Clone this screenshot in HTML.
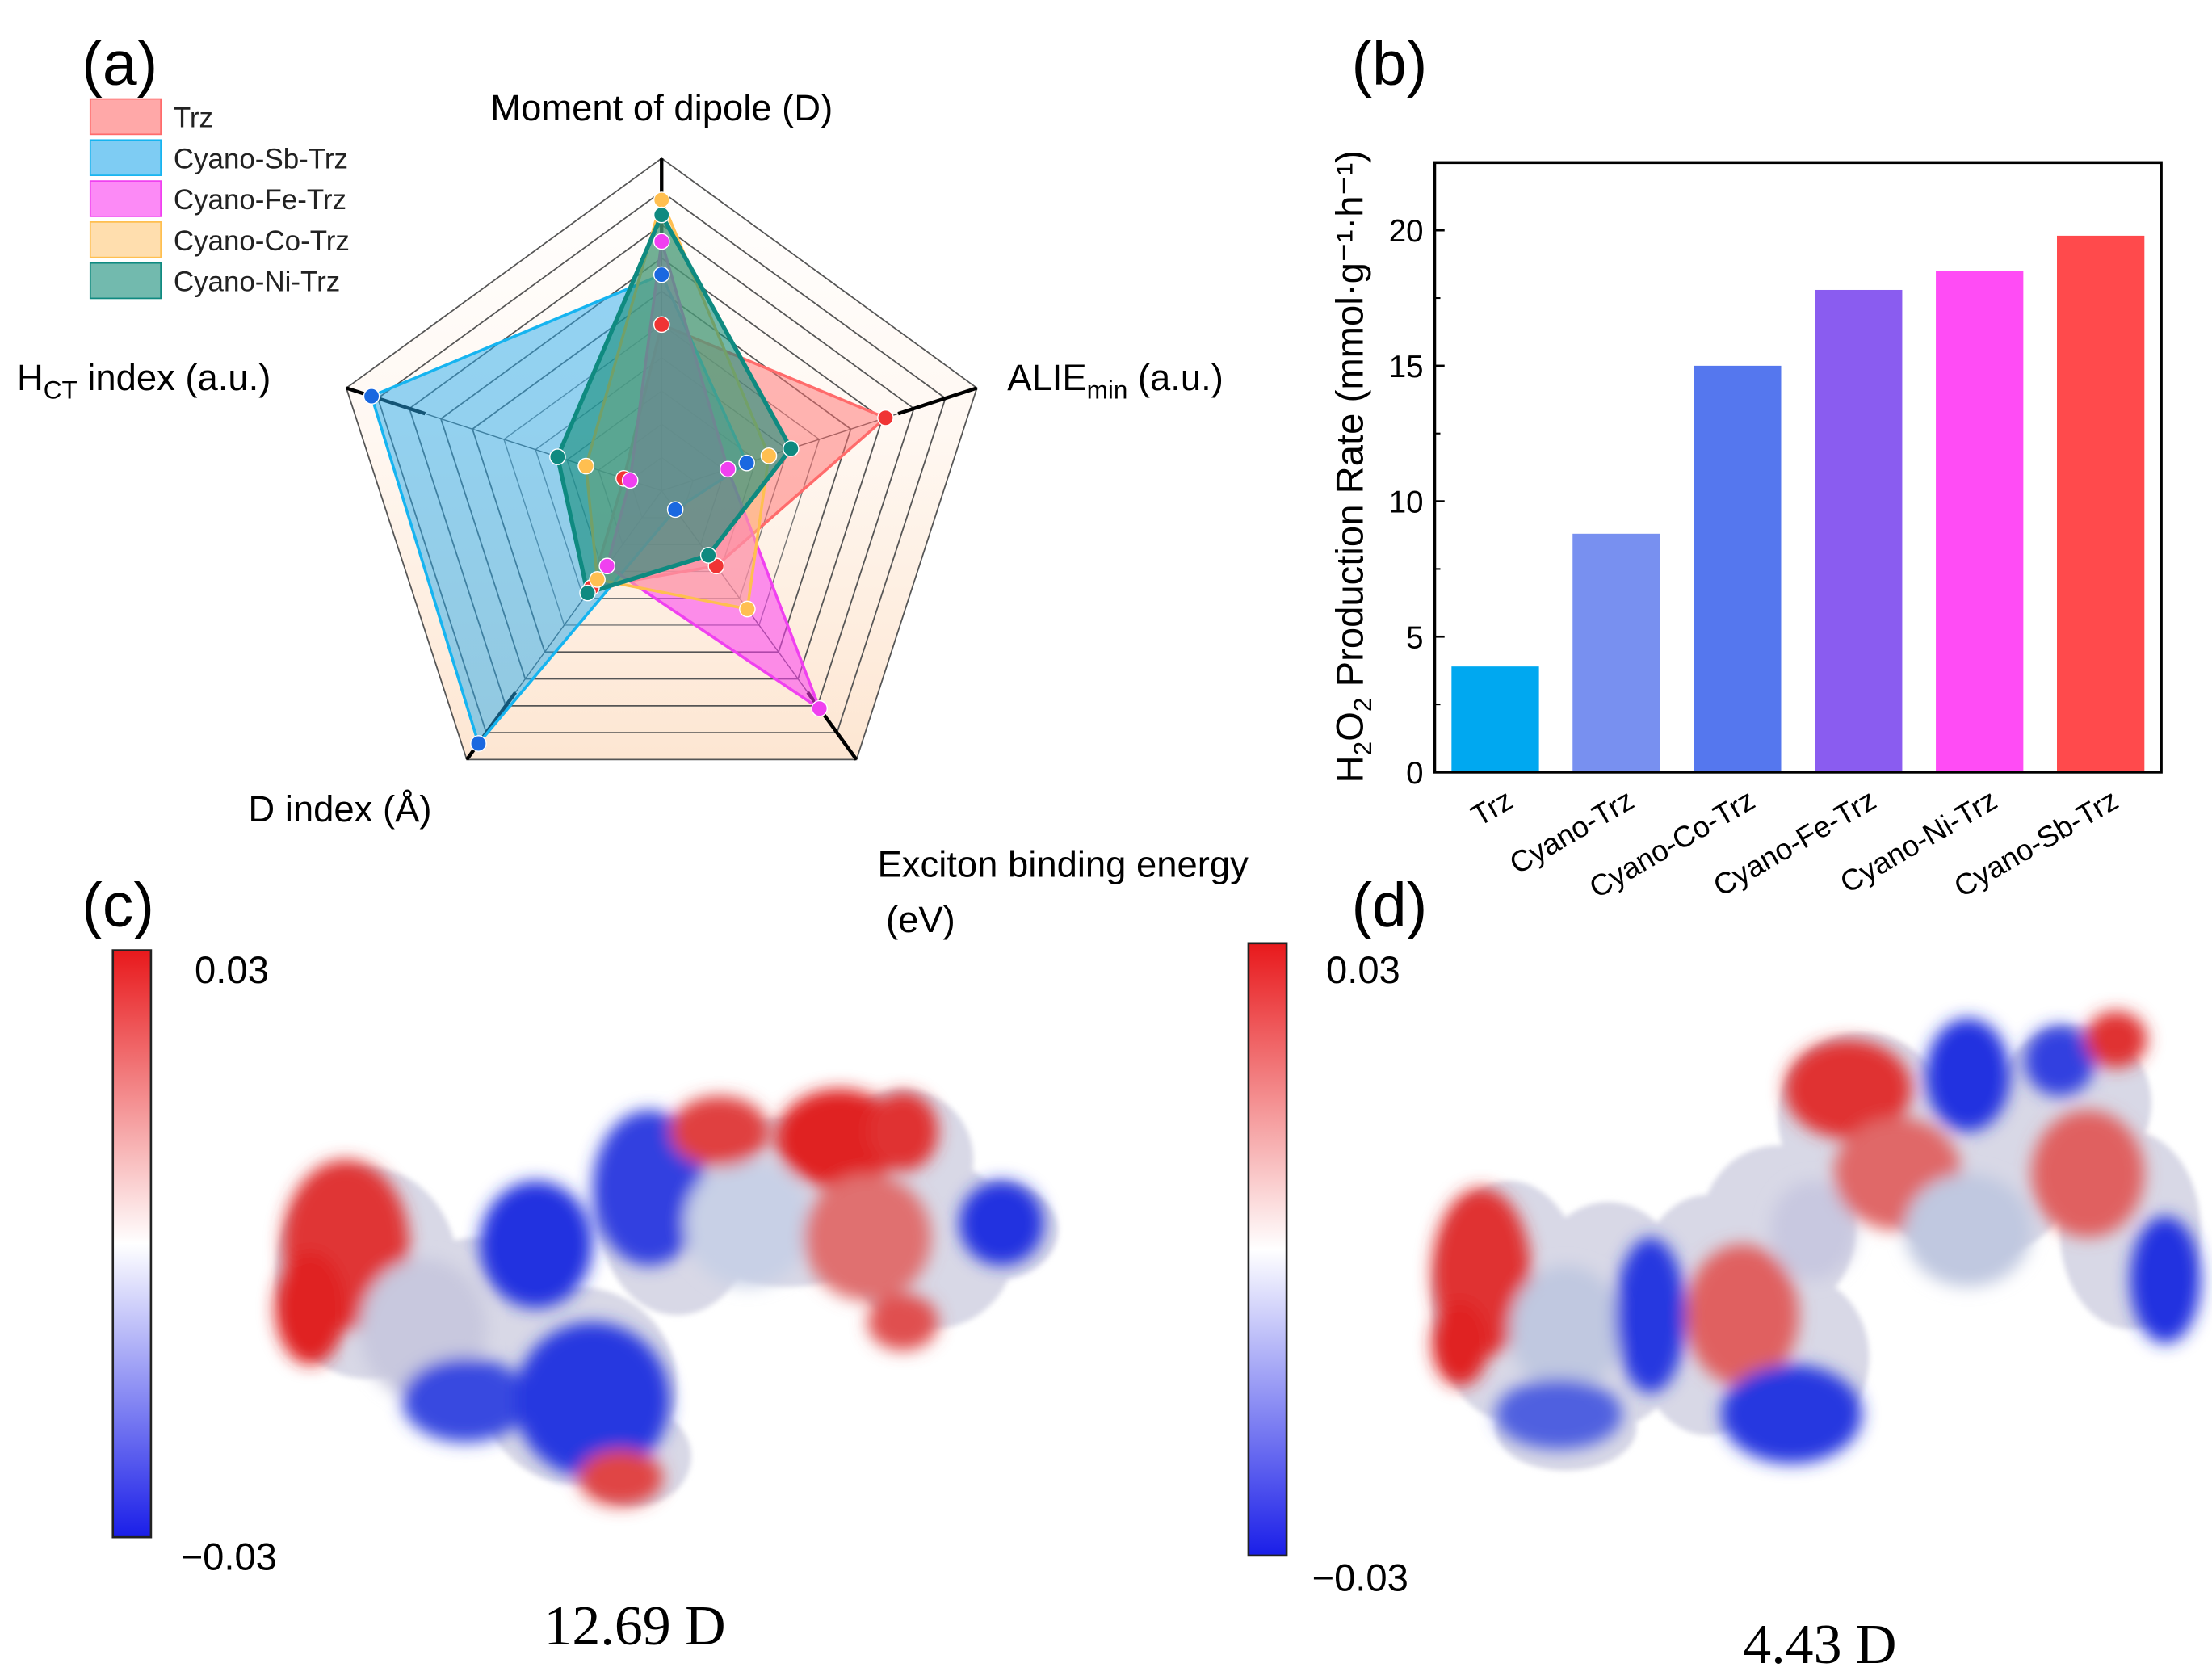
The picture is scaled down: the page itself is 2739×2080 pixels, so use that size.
<!DOCTYPE html>
<html><head><meta charset="utf-8"><style>
html,body{margin:0;padding:0;background:#fff}
svg{display:block}
.sans{font-family:"Liberation Sans","DejaVu Sans",sans-serif}
.serif{font-family:"Liberation Serif","DejaVu Serif",serif}
</style></head><body>
<svg id="fig" class="sans" width="2739" height="2080" viewBox="0 0 1568 1188" preserveAspectRatio="none" xmlns="http://www.w3.org/2000/svg">
<defs>
<linearGradient id="peach" x1="0" y1="0" x2="0" y2="1">
<stop offset="0" stop-color="#ffffff"/><stop offset="0.45" stop-color="#fff8f2"/><stop offset="1" stop-color="#fde6d2"/>
</linearGradient>
<linearGradient id="cbar" x1="0" y1="0" x2="0" y2="1">
<stop offset="0" stop-color="#e8191c"/><stop offset="0.5" stop-color="#ffffff"/><stop offset="1" stop-color="#1a1ee8"/>
</linearGradient>
<filter id="blur" x="-20%" y="-20%" width="140%" height="140%"><feGaussianBlur stdDeviation="6"/></filter>
<filter id="blur2" x="-20%" y="-20%" width="140%" height="140%"><feGaussianBlur stdDeviation="2"/></filter>
</defs>
<g id="radar"></g>
<g id="bars"></g>
<g id="esp"></g>
<text x="58" y="60" font-size="44">(a)</text>
<text x="958" y="60" font-size="44">(b)</text>
<text x="58" y="655" font-size="44">(c)</text>
<text x="958" y="655" font-size="44">(d)</text>
</svg>
<script>
const NS='http://www.w3.org/2000/svg';
function mk(tag,attrs,parent,txt){const e=document.createElementNS(NS,tag);for(const k in attrs)e.setAttribute(k,attrs[k]);if(txt!==undefined)e.textContent=txt;parent.appendChild(e);return e;}

// ---------- Radar data ----------
const radarAxes=['Moment of dipole (D)','ALIEmin (a.u.)','Exciton binding energy (eV)','D index (Å)','HCT index (a.u.)'];
const radarSeries=['Trz','Cyano-Sb-Trz','Cyano-Fe-Trz','Cyano-Co-Trz','Cyano-Ni-Trz'];
const valTrz=[0.50,0.71,0.28,0.36,0.12];
const valSb=[0.65,0.27,0.07,0.94,0.92];
const valFe=[0.75,0.21,0.81,0.28,0.10];
const valCo=[0.875,0.34,0.44,0.33,0.24];
const valNi=[0.83,0.41,0.24,0.38,0.33];
const radarVals=[valTrz,valSb,valFe,valCo,valNi];
const radarFill=['rgba(255,110,110,0.5)','rgba(40,170,235,0.5)','rgba(250,60,240,0.55)','rgba(255,200,120,0.45)','rgba(20,140,120,0.6)'];
const radarLine=['#ff6b6b','#16b4f0','#f040f0','#ffbf50','#0f8a80'];
const radarDot=['#f03434','#1a68e0','#f040f0','#ffbf50','#0f8a80'];

const rg=document.getElementById('radar');
const cx=469,cy=347,R=235;
function pt(i,r){const a=-Math.PI/2+i*2*Math.PI/5;return [cx+R*r*Math.cos(a),cy+R*r*Math.sin(a)];}
function poly(vals){return vals.map((v,i)=>pt(i,v).join(',')).join(' ');}
let bg=mk('polygon',{points:poly([1,1,1,1,1]),fill:'url(#peach)',stroke:'none'},rg);

for(let k=1;k<=10;k++){
  const r=k/10;
  const g=mk('polygon',{points:poly([r,r,r,r,r]),fill:'none',stroke:k>5?'#555':'#777','stroke-width':k>5?1:0.8},rg);
  
}
for(let i=0;i<5;i++){
  const [x,y]=pt(i,1);
  const l=mk('line',{x1:cx,y1:cy,x2:x,y2:y,stroke:'#555','stroke-width':0.8},rg);
  
  const [x2,y2]=pt(i,0.75);
  const o=mk('line',{x1:x2,y1:y2,x2:x,y2:y,stroke:'#000','stroke-width':2.5},rg);
  
}
radarVals.forEach((vals,s)=>{
  const p=mk('polygon',{points:poly(vals),fill:radarFill[s],stroke:radarLine[s],'stroke-width':s==4?3:2,'stroke-linejoin':'round'},rg);
  
});
radarVals.forEach((vals,s)=>{
  vals.forEach((v,i)=>{
    const [x,y]=pt(i,v);
    const c=mk('circle',{cx:x,cy:y,r:5.5,fill:radarDot[s],stroke:'#fff','stroke-width':0.8},rg);
    
  });
});
radarSeries.forEach((n,s)=>{
  const y=70+s*29;
  const r=mk('rect',{x:64,y:y,width:50,height:25,fill:radarFill[s].replace(/0\.\d+\)/,'0.6)'),stroke:radarLine[s],'stroke-width':1},rg);
  
  const t=mk('text',{x:123,y:y+20,'font-size':20,fill:'#222'},rg,n);
  
});
function lab(x,y,s,anchor,name){const t=mk('text',{x:x,y:y,'font-size':26,'text-anchor':anchor||'start'},rg);t.innerHTML=s;return t;}
lab(469,85,'Moment of dipole (D)','middle','axis-label-dipole');
lab(12,276,'H<tspan font-size="18" dy="6">CT</tspan><tspan dy="-6"> index (a.u.)</tspan>','start','axis-label-hct');
lab(714,276,'ALIE<tspan font-size="18" dy="6">min</tspan><tspan dy="-6"> (a.u.)</tspan>','start','axis-label-alie');
lab(241,581,'D index (Å)','middle','axis-label-dindex');
lab(622,620,'Exciton binding energy','start','axis-label-exciton');
lab(628,659,'(eV)','start','axis-label-exciton-unit');

// ---------- Bar data ----------
const barCats=['Trz','Cyano-Trz','Cyano-Co-Trz','Cyano-Fe-Trz','Cyano-Ni-Trz','Cyano-Sb-Trz'];
const barVals=[3.9,8.8,15.0,17.8,18.5,19.8];
const barColors=['#00a8f0','#7890f0','#5577ee','#8a5cf0','#ff4cf5','#ff4a4c'];
const yTicks=[0,5,10,15,20];
const yTickLabels=['0','5','10','15','20'];
const bgp=document.getElementById('bars');
const X0=1017,X1=1532,Y0=546,Y1=115,ymax=22.5;
const ys=v=>Y0-(Y0-Y1)*v/ymax;
const band=(X1-X0)/barCats.length;
barVals.forEach((v,i)=>{
  const xc=X0+band*(i+0.5);
  const r=mk('rect',{x:xc-31,y:ys(v),width:62,height:Y0-ys(v),fill:barColors[i]},bgp);
  
  const t=mk('text',{x:xc+14,y:Y0+24,'font-size':21,'text-anchor':'end',transform:`rotate(-30 ${xc+14} ${Y0+24})`},bgp,barCats[i]);
  
});
const fr=mk('rect',{x:X0,y:Y1,width:X1-X0,height:Y0-Y1,fill:'none',stroke:'#000','stroke-width':2},bgp);

yTicks.forEach((v,i)=>{
  const y=ys(v);
  const l=mk('line',{x1:X0,y1:y,x2:X0+7,y2:y,stroke:'#000','stroke-width':1.5},bgp);
  
  const t=mk('text',{x:X0-8,y:y+8,'font-size':22,'text-anchor':'end'},bgp,yTickLabels[i]);
  
  const m=ys(v+2.5);
  if(v+2.5<ymax){const ml=mk('line',{x1:X0,y1:m,x2:X0+4,y2:m,stroke:'#000','stroke-width':1.2},bgp);
  }
});
const yt=mk('text',{x:0,y:0,'font-size':27,'text-anchor':'middle',transform:'translate(966,330) rotate(-90)'},bgp);
yt.innerHTML='H<tspan font-size="18" dy="6">2</tspan><tspan dy="-6">O</tspan><tspan font-size="18" dy="6">2</tspan><tspan dy="-6"> Production Rate (mmol·g⁻¹·h⁻¹)</tspan>';


// ---------- ESP panels ----------
const eg=document.getElementById('esp');
function cbar(x,y,h,t1y,t2x,t2y,t1x){
  const r=mk('rect',{x:x,y:y,width:27,height:h,fill:'url(#cbar)',stroke:'#222','stroke-width':1.5},eg);
  
  const a=mk('text',{x:t1x,y:t1y,'font-size':27},eg,'0.03');
  const b=mk('text',{x:t2x,y:t2y,'font-size':27},eg,'−0.03');
}
cbar(80,672,415,695,128,1110,138);
cbar(885,667,433,695,930,1125,940);
function blob(base,parts,name){
  const g=mk('g',{},eg);
  const gb=mk('g',{filter:'url(#blur2)'},g);
  base.forEach(p=>{const c=mk('ellipse',{cx:p[0],cy:p[1],rx:p[2],ry:p[3],fill:'#d8d8e6'},gb);});
  const gc=mk('g',{filter:'url(#blur)'},g);
  parts.forEach(p=>{const c=mk('ellipse',{cx:p[0],cy:p[1],rx:p[2],ry:p[3],fill:p[4]},gc);});
}
blob([[260,900,65,75],[340,940,70,65],[410,980,70,70],[450,1030,40,35],[480,860,55,70],[560,850,80,60],[640,820,50,50],[660,880,60,60],[705,870,45,35]],
[[245,880,45,60,'#e03434'],[220,925,25,40,'#e02020'],[300,940,45,50,'#c8c8de'],[330,990,45,30,'#3848e0'],[380,880,40,45,'#2030e0'],[420,990,55,55,'#2838e0'],[440,1045,30,20,'#e04545'],[460,840,40,55,'#3040e0'],[530,865,45,45,'#c8d0e6'],[510,800,35,25,'#e04040'],[595,805,45,35,'#e02020'],[640,800,25,28,'#e03030'],[615,875,45,45,'#e07070'],[710,865,30,30,'#2030e0'],[640,935,25,20,'#e05050']],'esp-surface-c');
blob([[1070,920,55,85],[1140,930,60,80],[1210,930,55,85],[1270,960,55,60],[1260,870,55,60],[1320,790,60,60],[1400,830,70,60],[1470,780,55,55],[1510,870,50,70],[1110,1010,50,30]],
[[1050,900,35,60,'#e03030'],[1035,950,20,30,'#e02020'],[1110,940,40,45,'#c0c8e0'],[1170,930,25,55,'#2838e0'],[1235,930,40,50,'#e06060'],[1270,1000,50,35,'#2838e0'],[1285,870,30,35,'#c8c8e0'],[1310,770,45,35,'#e03030'],[1345,830,45,40,'#e06868'],[1395,760,30,40,'#2030e0'],[1395,870,45,40,'#c0c8e0'],[1460,750,25,25,'#3040e0'],[1480,830,40,45,'#e06060'],[1500,735,22,20,'#e03030'],[1535,905,25,45,'#2030e0'],[1105,1000,45,25,'#5060e0']],'esp-surface-d');
const d1=mk('text',{x:450,y:1163,'font-size':40,'text-anchor':'middle',class:'serif'},eg,'12.69 D');

const d2=mk('text',{x:1290,y:1176,'font-size':40,'text-anchor':'middle',class:'serif'},eg,'4.43 D');

</script>
</body></html>
